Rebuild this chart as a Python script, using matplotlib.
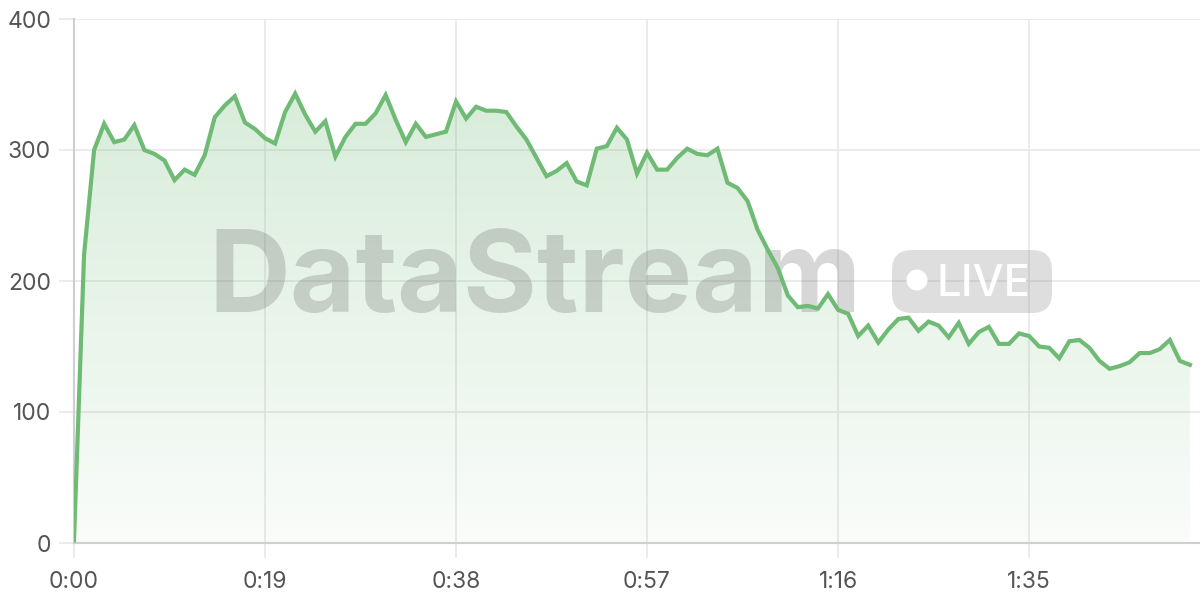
import matplotlib.pyplot as plt
import numpy as np
from matplotlib.patches import FancyBboxPatch, Circle, Polygon
from matplotlib.transforms import IdentityTransform
from matplotlib.colors import LinearSegmentedColormap

# throughput samples, one per second
seconds = np.arange(112)
values = [
    2, 220, 300, 320, 306, 308, 319, 300, 297, 292,
    277, 285, 281, 296, 325, 334, 341, 321, 316, 309,
    305, 329, 343, 327, 314, 322, 295, 310, 320, 320,
    328, 342, 323, 306, 320, 310, 312, 314, 337, 324,
    333, 330, 330, 329, 318, 308, 294, 280, 284, 290,
    276, 273, 301, 303, 317, 308, 282, 298, 285, 285,
    294, 301, 297, 296, 301, 275, 271, 261, 239, 224,
    210, 189, 180, 181, 179, 190, 178, 175, 158, 166,
    153, 163, 171, 172, 162, 169, 166, 157, 168, 152,
    161, 165, 152, 152, 160, 158, 150, 149, 141, 154,
    155, 149, 139, 133, 135, 138, 145, 145, 148, 155,
    139, 136,
]
tick_secs = [0, 19, 38, 57, 76, 95]
tick_labels = ["%d:%02d" % (s // 60, s % 60) for s in tick_secs]
y_ticks = [0, 100, 200, 300, 400]

line_col = "#6fba75"
grid_col = "#e6e6e6"
text_col = "#555555"

plt.rcParams['font.family'] = ['Inter', 'DejaVu Sans']

fig = plt.figure(figsize=(12, 6), dpi=100)
ax = fig.add_axes([74 / 1200, 57 / 600, 1 - 74 / 1200, 524 / 600])
ax.set_xlim(0, 112)
ax.set_ylim(0, 400)

# gradient fill under the line
cmap = LinearSegmentedColormap.from_list(
    "g", [(0.424, 0.729, 0.451, 0.04), (0.424, 0.729, 0.451, 0.30)])
grad = np.linspace(0, 1, 256).reshape(-1, 1)
img = ax.imshow(grad, cmap=cmap, origin="lower", aspect="auto",
                extent=[0, 112, 0, 400], zorder=1)
verts = list(zip(seconds, values)) + [(seconds[-1], 0), (seconds[0], 0)]
poly = Polygon(verts, closed=True, facecolor="none", edgecolor="none")
ax.add_patch(poly)
img.set_clip_path(poly)

ax.plot(seconds, values, color=line_col, lw=3.0, zorder=4,
        solid_joinstyle="miter")

ax.set_xticks(tick_secs)
ax.set_xticklabels(tick_labels)
ax.set_yticks(y_ticks)
ax.grid(True, color=grid_col, lw=1.1, zorder=0)
ax.set_axisbelow(True)
ax.tick_params(axis="both", length=11, width=1.1, color=grid_col,
               labelsize=16.5, labelcolor=text_col)
ax.tick_params(axis="x", pad=9.5)
ax.tick_params(axis="y", pad=5.5)
for s in ["top", "right"]:
    ax.spines[s].set_visible(False)
for s in ["left", "bottom"]:
    ax.spines[s].set_color("#cfcfcf")
    ax.spines[s].set_linewidth(1.5)

# watermark (kept under the line)
ax.text(208 / 1200, 1 - 312 / 600, "DataStream", fontsize=81.5,
        fontweight="bold", color="#4d4d4d", alpha=0.22,
        ha="left", va="baseline", zorder=3, transform=fig.transFigure)
badge = FancyBboxPatch((892, 287), 160, 63,
                       boxstyle="round,pad=0,rounding_size=20",
                       transform=IdentityTransform(), facecolor="#7f7f7f",
                       edgecolor="none", alpha=0.25, zorder=3)
ax.add_artist(badge)
dot = Circle((917, 320), 10.5, transform=IdentityTransform(),
             facecolor="white", edgecolor="none", zorder=3.5)
ax.add_artist(dot)
ax.text(937 / 1200, 1 - 296 / 600, "LIVE", fontsize=31.5,
        fontweight="medium", color="white", ha="left", va="baseline",
        zorder=3.5, transform=fig.transFigure)

fig.savefig("out.png", dpi=100)
